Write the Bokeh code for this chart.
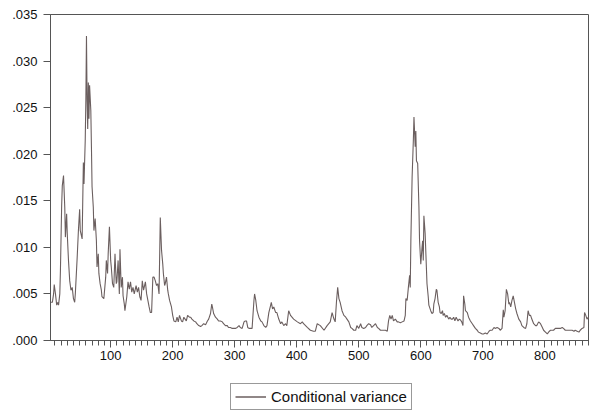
from bokeh.plotting import figure
from bokeh.layouts import column
from bokeh.models import Range1d, FixedTicker, CustomJSTickFormatter, Legend, LegendItem
from bokeh.embed import file_html
from bokeh.resources import INLINE

obs = [
    3, 6, 8, 9, 11, 13, 15, 16, 18, 19, 21, 22, 24, 26, 27, 29, 30, 32, 34, 36,
    38, 40, 42, 43, 46, 48, 50, 51, 54, 55, 56, 57, 59, 60, 61, 62, 63, 64, 65, 66,
    68, 69, 70, 72, 73, 75, 77, 78, 80, 81, 83, 85, 86, 89, 92, 93, 95, 96, 98, 100,
    101, 103, 105, 107, 109, 110, 112, 114, 115, 117, 119, 120, 122, 123, 126, 128, 130, 132, 134, 136,
    138, 141, 143, 145, 147, 149, 151, 153, 156, 158, 160, 162, 164, 166, 168, 170, 172, 174, 176, 178,
    180, 182, 184, 185, 187, 188, 190, 192, 193, 195, 198, 200, 202, 205, 207, 209, 211, 214, 216, 218,
    220, 222, 224, 227, 229, 231, 234, 237, 239, 242, 245, 247, 250, 253, 256, 258, 261, 263, 264, 266,
    269, 272, 274, 277, 280, 282, 285, 288, 290, 293, 296, 299, 301, 304, 307, 309, 312, 315, 317, 319,
    321, 323, 325, 328, 331, 332, 334, 336, 339, 342, 344, 347, 350, 352, 355, 358, 359, 361, 363, 366,
    368, 371, 374, 376, 379, 382, 384, 387, 390, 395, 401, 406, 409, 411, 417, 422, 427, 430, 433, 438,
    444, 449, 454, 457, 460, 462, 464, 466, 468, 470, 473, 476, 479, 481, 484, 487, 489, 492, 495, 497,
    500, 503, 505, 508, 511, 513, 516, 519, 521, 524, 527, 530, 532, 535, 538, 540, 543, 546, 548, 550,
    552, 554, 556, 559, 562, 564, 567, 570, 573, 575, 576, 578, 580, 582, 583, 584, 586, 588, 589, 591,
    592, 593, 595, 597, 598, 600, 602, 603, 604, 605, 607, 609, 610, 612, 613, 616, 618, 620, 621, 623,
    625, 626, 628, 630, 631, 633, 635, 636, 638, 640, 642, 645, 647, 649, 651, 653, 655, 657, 660, 662,
    664, 666, 668, 669, 671, 672, 675, 677, 680, 683, 685, 688, 691, 693, 696, 699, 701, 704, 707, 710,
    712, 715, 718, 720, 723, 726, 728, 731, 733, 734, 736, 738, 740, 742, 743, 745, 747, 749, 751, 753,
    755, 758, 761, 763, 766, 769, 771, 773, 775, 777, 779, 782, 785, 787, 790, 793, 796, 798, 801, 804,
    806, 809, 812, 814, 817, 820, 822, 825, 828, 830, 833, 836, 839, 841, 844, 847, 849, 852, 855, 857,
    860, 863, 864, 866, 868, 870, 872,
]
variance_e4 = [
    41, 41, 50, 60, 50, 38, 41, 38, 50, 75, 145, 166, 177, 143, 111, 136, 115, 86, 64, 54,
    57, 45, 41, 50, 89, 118, 141, 118, 109, 150, 191, 168, 215, 258, 327, 258, 227, 277, 238, 274,
    247, 208, 165, 143, 118, 131, 107, 79, 93, 72, 61, 54, 47, 45, 68, 86, 72, 93, 122, 86,
    79, 61, 57, 93, 61, 63, 86, 50, 98, 57, 68, 48, 39, 32, 47, 63, 55, 63, 52, 57,
    50, 59, 52, 57, 47, 43, 64, 54, 63, 50, 43, 36, 30, 30, 68, 68, 64, 59, 61, 50,
    132, 97, 82, 72, 59, 61, 68, 54, 50, 43, 36, 27, 21, 20, 25, 20, 27, 21, 20, 25,
    23, 21, 27, 25, 25, 23, 21, 20, 18, 16, 15, 16, 18, 17, 21, 23, 29, 39, 36, 29,
    25, 23, 21, 21, 20, 18, 16, 16, 14, 14, 13, 13, 13, 14, 16, 14, 13, 20, 21, 21,
    14, 13, 13, 13, 43, 50, 43, 32, 25, 21, 20, 16, 14, 16, 30, 38, 41, 34, 36, 30,
    30, 23, 18, 20, 16, 18, 16, 32, 27, 23, 20, 18, 20, 18, 14, 11, 10, 10, 18, 16,
    11, 16, 20, 30, 23, 20, 41, 57, 45, 41, 32, 27, 25, 23, 20, 14, 13, 11, 11, 16,
    13, 18, 14, 13, 14, 16, 18, 17, 14, 16, 18, 14, 13, 11, 11, 11, 11, 10, 21, 27,
    23, 27, 21, 23, 20, 20, 19, 20, 21, 27, 45, 43, 57, 70, 57, 107, 175, 215, 240, 208,
    225, 193, 190, 143, 107, 82, 100, 107, 86, 134, 115, 79, 61, 47, 38, 32, 29, 30, 39, 45,
    55, 54, 41, 36, 30, 29, 32, 27, 29, 25, 27, 23, 25, 23, 23, 25, 21, 25, 21, 23,
    22, 20, 16, 48, 39, 32, 30, 25, 21, 18, 16, 13, 11, 9, 8, 7, 7, 8, 7, 10,
    11, 11, 14, 13, 14, 13, 11, 13, 33, 25, 32, 55, 50, 39, 41, 36, 43, 48, 41, 34,
    29, 23, 20, 16, 14, 13, 18, 32, 27, 27, 23, 18, 16, 16, 20, 18, 14, 11, 9, 7,
    9, 11, 11, 11, 13, 13, 13, 13, 14, 13, 11, 11, 11, 11, 11, 10, 11, 10, 9, 11,
    13, 14, 30, 27, 23, 25, 23,
]
variance = [v * 1e-4 for v in variance_e4]

series_name = "Conditional variance"
y_ticks = [0.0, 0.005, 0.010, 0.015, 0.020, 0.025, 0.030, 0.035]
x_ticks = [100, 200, 300, 400, 500, 600, 700, 800]
x_minor_ticks = list(range(10, 871, 10))

FONT = "Liberation Sans"
AXIS_COLOR = "#555555"
LINE_COLOR = "#6b5f5f"

p = figure(width=589, height=370, output_backend="svg", toolbar_location=None,
           x_range=Range1d(3, 872), y_range=Range1d(0, 0.035),
           min_border_left=50, min_border_right=0, min_border_top=14,
           min_border_bottom=30)
p.title.visible = False
p.xgrid.visible = False
p.ygrid.visible = False
p.outline_line_color = AXIS_COLOR
p.outline_line_width = 1
p.background_fill_color = "white"
p.border_fill_color = "white"

r = p.line(obs, variance, line_color=LINE_COLOR, line_width=1.1)

# x axis
xa = p.xaxis[0]
xa.ticker = FixedTicker(ticks=x_ticks, minor_ticks=x_minor_ticks)
xa.axis_line_color = AXIS_COLOR
xa.major_tick_line_color = AXIS_COLOR
xa.minor_tick_line_color = AXIS_COLOR
xa.major_tick_in = 0
xa.major_tick_out = 7
xa.minor_tick_in = 0
xa.minor_tick_out = 5
xa.major_label_text_font = FONT
xa.major_label_text_font_size = "13px"
xa.major_label_text_color = "#111111"
xa.major_label_standoff = 3

# y axis
ya = p.yaxis[0]
ya.ticker = FixedTicker(ticks=y_ticks, minor_ticks=[])
ya.formatter = CustomJSTickFormatter(code="return tick.toFixed(3).replace(/^0/, '');")
ya.axis_line_color = AXIS_COLOR
ya.major_tick_line_color = AXIS_COLOR
ya.minor_tick_line_color = None
ya.major_tick_in = 0
ya.major_tick_out = 7
ya.major_label_text_font = FONT
ya.major_label_text_font_size = "13px"
ya.major_label_text_color = "#111111"
ya.major_label_standoff = 6

# Legend strip below the chart (its frame is aligned with the chart frame).
# The series is drawn here too, but outside this strip's visible range,
# so that the legend entry has a real line renderer to show.
lg = figure(width=589, height=43, output_backend="svg", toolbar_location=None,
            x_range=Range1d(0, 1), y_range=Range1d(0, 1),
            min_border_left=0, min_border_right=0, min_border_top=0,
            min_border_bottom=0, x_axis_location=None, y_axis_location=None)
lg.title.visible = False
lg.xgrid.visible = False
lg.ygrid.visible = False
lg.outline_line_color = None
lg.background_fill_color = "white"
lg.border_fill_color = "white"
lr = lg.line(obs, variance, line_color=LINE_COLOR, line_width=1.5)

legend = Legend(items=[LegendItem(label=series_name, renderers=[lr])],
                location=(180, 3), margin=0, padding=4, spacing=0,
                glyph_width=31, glyph_height=15, label_height=15,
                label_standoff=5, label_text_font=FONT,
                label_text_font_size="15px", label_text_color="#111111",
                border_line_color="#333333", border_line_width=1,
                background_fill_color="white", background_fill_alpha=1)
lg.add_layout(legend, "center")

layout = column(p, lg, spacing=0)
open("out.html", "w").write(file_html(layout, INLINE))
